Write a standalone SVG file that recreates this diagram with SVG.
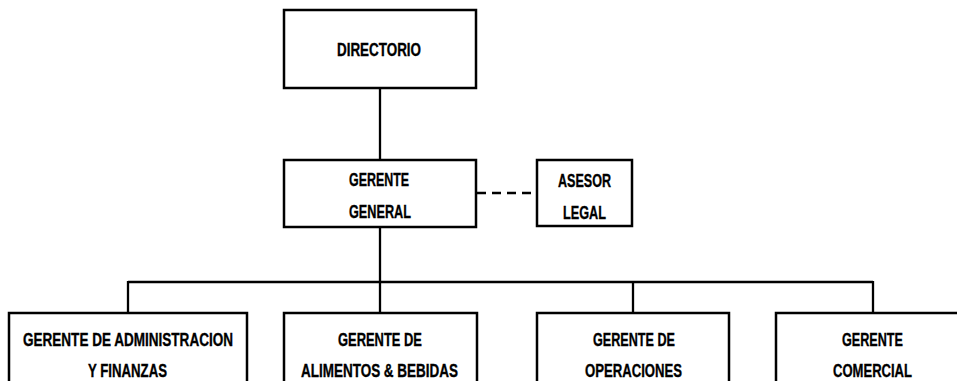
<svg xmlns="http://www.w3.org/2000/svg" width="957" height="381" viewBox="0 0 957 381">
<style>
.box{fill:#fff;stroke:#000;stroke-width:2.5}
.ln{fill:none;stroke:#000;stroke-width:2.3}
.dash{fill:none;stroke:#000;stroke-width:2.3;stroke-dasharray:9 6}
.t{font-family:"Liberation Sans",Arial,sans-serif;font-weight:bold;font-size:18.5px;fill:#000;stroke:#000;stroke-width:0.35;text-anchor:middle}
</style>
<rect width="957" height="381" fill="#fff"/>
<g id="connectors">
<line class="ln" x1="380" y1="88" x2="380" y2="160"/>
<line class="dash" x1="477" y1="193" x2="537" y2="193"/>
<line class="ln" x1="380" y1="227" x2="380" y2="282"/>
<line class="ln" x1="128" y1="282" x2="873" y2="282"/>
<line class="ln" x1="128" y1="281" x2="128" y2="313"/>
<line class="ln" x1="380" y1="281" x2="380" y2="313"/>
<line class="ln" x1="633" y1="281" x2="633" y2="313"/>
<line class="ln" x1="873" y1="281" x2="873" y2="313"/>
</g>
<g id="directorio">
<rect class="box" x="284" y="10" width="192" height="78"/>
<text class="t" x="379" y="56" textLength="84" lengthAdjust="spacingAndGlyphs">DIRECTORIO</text>
</g>
<g id="gerente-general">
<rect class="box" x="284" y="160" width="192" height="67"/>
<text class="t" x="379" y="186" textLength="60" lengthAdjust="spacingAndGlyphs">GERENTE</text>
<text class="t" x="380" y="218" textLength="62" lengthAdjust="spacingAndGlyphs">GENERAL</text>
</g>
<g id="asesor-legal">
<rect class="box" x="537" y="160" width="95" height="66"/>
<text class="t" x="584.5" y="187" textLength="53" lengthAdjust="spacingAndGlyphs">ASESOR</text>
<text class="t" x="584.5" y="219" textLength="43" lengthAdjust="spacingAndGlyphs">LEGAL</text>
</g>
<g id="gerente-administracion">
<rect class="box" x="9" y="313" width="238" height="90"/>
<text class="t" x="128" y="346" textLength="210" lengthAdjust="spacingAndGlyphs">GERENTE DE ADMINISTRACION</text>
<text class="t" x="127.5" y="377" textLength="79" lengthAdjust="spacingAndGlyphs">Y FINANZAS</text>
</g>
<g id="gerente-alimentos">
<rect class="box" x="284" y="313" width="193" height="90"/>
<text class="t" x="380" y="346" textLength="84" lengthAdjust="spacingAndGlyphs">GERENTE DE</text>
<text class="t" x="379.5" y="377" textLength="157" lengthAdjust="spacingAndGlyphs">ALIMENTOS &amp; BEBIDAS</text>
</g>
<g id="gerente-operaciones">
<rect class="box" x="537" y="313" width="192" height="90"/>
<text class="t" x="634" y="346" textLength="82" lengthAdjust="spacingAndGlyphs">GERENTE DE</text>
<text class="t" x="633.5" y="377" textLength="97" lengthAdjust="spacingAndGlyphs">OPERACIONES</text>
</g>
<g id="gerente-comercial">
<rect class="box" x="776" y="313" width="200" height="90"/>
<text class="t" x="872.5" y="346" textLength="61" lengthAdjust="spacingAndGlyphs">GERENTE</text>
<text class="t" x="872.5" y="377" textLength="79" lengthAdjust="spacingAndGlyphs">COMERCIAL</text>
</g>
</svg>
